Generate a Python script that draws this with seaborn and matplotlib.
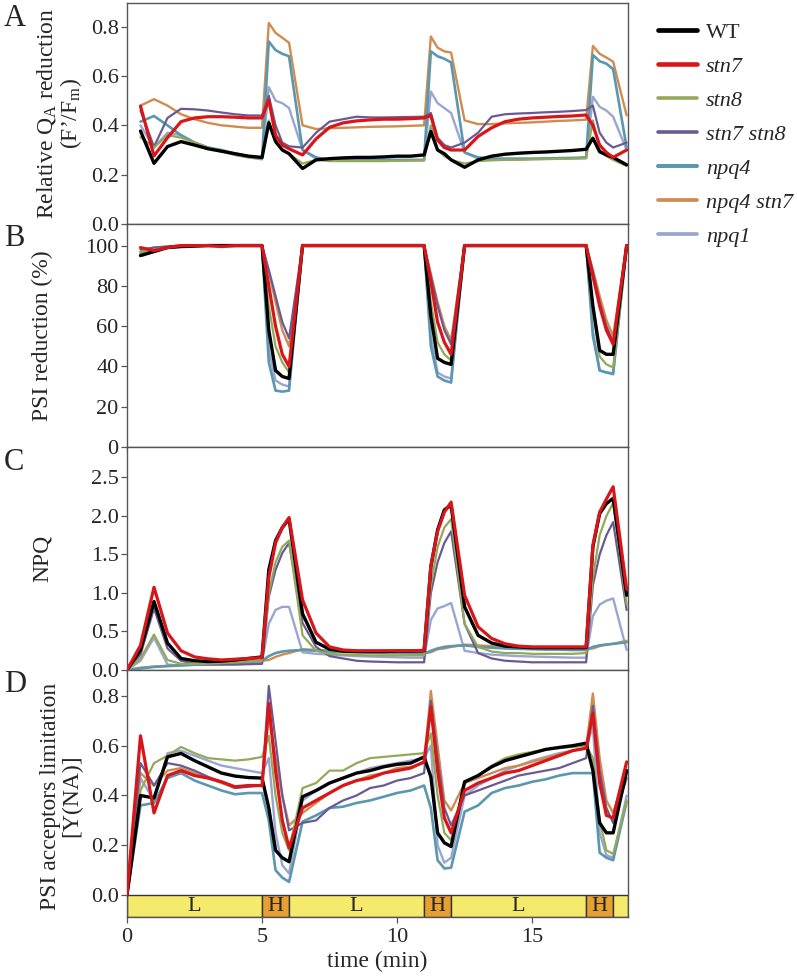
import numpy as np
import pandas as pd
import matplotlib
matplotlib.use("Agg")
import matplotlib.pyplot as plt
import seaborn as sns

nan = np.nan

# ---------------- data ----------------
time = [0, 0.5, 1, 1.5, 2, 2.5, 3, 3.5, 4, 4.5, 5,
        5.25, 5.5, 5.75, 6,
        6.5, 7, 7.5, 8, 8.5, 9, 9.5, 10, 10.5, 11,
        11.25, 11.5, 11.75, 12,
        12.5, 13, 13.5, 14, 14.5, 15, 15.5, 16, 16.5, 17,
        17.25, 17.5, 17.75, 18,
        18.5]

genotypes = ["WT", "stn7", "stn8", "stn7 stn8", "npq4", "npq4 stn7", "npq1"]

# Panel A: relative QA reduction (F'/Fm)
qa_WT = [nan, .377, .246, .314, .334, .32, .305, .295, .285, .275, .27,
         .41, .335, .30, .285,
         .225, .26, .265, .268, .27, .27, .272, .275, .275, .28,
         .375, .30, .285, .26,
         .23, .26, .275, .283, .287, .29, .292, .295, .298, .303,
         .348, .293, .28, .27,
         .24]
qa_stn7 = [nan, .478, .276, .35, .415, .43, .435, .435, .433, .43, .43,
           .503, .36, .32, .305,
           .28, .345, .392, .41, .418, .422, .425, .425, .427, .43,
           .44, .34, .31, .30,
           .30, .355, .39, .415, .425, .43, .433, .436, .438, .442,
           .40, .32, .29, .27,
           .30]
qa_stn8 = [nan, .352, .31, .36, .35, .33, .31, .295, .28, .27, .265,
           .42, .33, .30, .285,
           .245, .26, .255, .255, .255, .255, .255, .256, .257, .258,
           .40, .30, .275, .26,
           .245, .255, .258, .26, .26, .262, .263, .264, .265, .266,
           .42, .30, .275, .26,
           .235]
qa_stn7stn8 = [nan, .46, .313, .43, .467, .465, .46, .452, .445, .44, .44,
               .52, .40, .33, .315,
               .31, .37, .415, .425, .435, .432, .432, .433, .434, .435,
               .45, .35, .32, .31,
               .33, .37, .435, .445, .448, .45, .453, .455, .458, .462,
               .48, .37, .33, .31,
               .33]
qa_npq4 = [nan, .415, .438, .40, .36, .33, .31, .30, .285, .275, .265,
           .74, .705, .69, .68,
           .30, .27, .26, .26, .26, .26, .26, .26, .26, .26,
           .70, .68, .67, .655,
           .29, .27, .265, .265, .265, .265, .266, .267, .268, .27,
           .685, .66, .65, .628,
           .31]
qa_npq4stn7 = [nan, .48, .506, .48, .445, .425, .41, .40, .395, .39, .39,
               .815, .775, .755, .735,
               .40, .385, .388, .39, .392, .394, .395, .396, .398, .40,
               .76, .715, .70, .695,
               .42, .405, .405, .408, .41, .412, .415, .418, .42, .423,
               .722, .69, .675, .658,
               .44]
qa_npq1 = [nan, .40, .31, .37, .36, .33, .31, .295, .28, .27, .262,
           .555, .50, .49, .47,
           .30, .265, .26, .258, .258, .258, .258, .258, .258, .258,
           .537, .49, .47, .45,
           .29, .265, .262, .262, .262, .263, .264, .265, .266, .268,
           .516, .475, .46, .435,
           .30]

# Panel B: PSI reduction (%)
psi_WT = [nan, 95, 97, 99, 99.5, 99.7, 100, 100, 100, 100, 100,
          58, 38, 35, 34,
          100, 100, 100, 100, 100, 100, 100, 100, 100, 100,
          65, 44, 42, 41,
          100, 100, 100, 100, 100, 100, 100, 100, 100, 100,
          70, 48, 46, 46,
          100]
psi_stn7 = [nan, 99, 97.5, 99, 100, 100, 100, 99.5, 100, 100, 100,
            80, 60, 46, 40,
            100, 100, 100, 100, 100, 100, 100, 100, 100, 100,
            82, 62, 52, 46,
            100, 100, 100, 100, 100, 100, 100, 100, 100, 100,
            85, 70, 58, 51,
            100]
psi_stn8 = [nan, 97, 98, 99, 99.5, 100, 100, 100, 100, 100, 100,
            70, 50, 42, 37,
            100, 100, 100, 100, 100, 100, 100, 100, 100, 100,
            72, 52, 46, 43,
            100, 100, 100, 100, 100, 100, 100, 100, 100, 100,
            68, 45, 41, 39.5,
            100]
psi_stn7stn8 = [nan, 98, 99, 99.5, 100, 100, 100, 100, 100, 100, 100,
                88, 75, 62, 54,
                100, 100, 100, 100, 100, 100, 100, 100, 100, 100,
                85, 70, 58, 51,
                100, 100, 100, 100, 100, 100, 100, 100, 100, 100,
                87, 72, 60, 52,
                100]
psi_npq4 = [nan, 96, 98, 99, 99.5, 100, 100, 100, 100, 100, 100,
            42, 28, 27.5, 28,
            100, 100, 100, 100, 100, 100, 100, 100, 100, 100,
            50, 35, 33, 32,
            100, 100, 100, 100, 100, 100, 100, 100, 100, 100,
            55, 38, 37, 36.5,
            100]
psi_npq4stn7 = [nan, 97, 99, 99.5, 100, 100, 100, 100, 100, 100, 100,
                87, 72, 58, 50,
                100, 100, 100, 100, 100, 100, 100, 100, 100, 100,
                86, 72, 60, 53,
                100, 100, 100, 100, 100, 100, 100, 100, 100, 100,
                88, 75, 63, 55,
                100]
psi_npq1 = [nan, 95, 98, 99, 99.5, 100, 100, 100, 100, 100, 100,
            48, 33, 31, 30,
            100, 100, 100, 100, 100, 100, 100, 100, 100, 100,
            55, 37, 35, 34,
            100, 100, 100, 100, 100, 100, 100, 100, 100, 100,
            58, 38, 37, 36,
            100]

# Panel C: NPQ
npq_WT = [0, .26, .89, .35, .15, .12, .11, .115, .13, .15, .17,
          1.3, 1.68, 1.85, 1.96,
          .73, .36, .27, .245, .24, .24, .24, .245, .245, .25,
          1.34, 1.82, 2.08, 2.14,
          .82, .45, .35, .31, .30, .29, .29, .29, .29, .29,
          1.6, 2.03, 2.16, 2.23,
          .97]
npq_stn7 = [0, .32, 1.074, .48, .25, .17, .145, .13, .14, .15, .16,
            1.2, 1.65, 1.85, 1.98,
            .91, .48, .30, .26, .25, .25, .25, .25, .25, .255,
            1.35, 1.8, 2.05, 2.18,
            .97, .56, .41, .34, .31, .30, .30, .30, .30, .30,
            1.62, 2.05, 2.22, 2.38,
            1.05]
npq_stn8 = [0, .15, .46, .13, .08, .08, .08, .09, .10, .11, .12,
            1.0, 1.4, 1.6, 1.68,
            .45, .25, .21, .20, .195, .19, .19, .19, .19, .19,
            1.1, 1.6, 1.85, 1.96,
            .60, .30, .24, .22, .22, .21, .21, .21, .21, .22,
            1.2, 1.75, 2.0, 2.17,
            .85]
npq_stn7stn8 = [0, .2, .80, .28, .12, .08, .07, .07, .07, .075, .08,
                .95, 1.3, 1.52, 1.65,
                .61, .30, .18, .15, .12, .11, .105, .10, .10, .10,
                1.0, 1.4, 1.65, 1.8,
                .60, .22, .15, .12, .11, .10, .10, .10, .10, .10,
                1.1, 1.5, 1.75, 1.92,
                .78]
npq_npq4 = [0, .02, .04, .05, .06, .07, .08, .09, .10, .11, .12,
            .18, .22, .24, .25,
            .26, .25, .24, .235, .23, .225, .22, .22, .215, .21,
            .25, .28, .30, .31,
            .32, .30, .29, .28, .275, .27, .265, .265, .26, .26,
            .30, .32, .33, .34,
            .36]
npq_npq4stn7 = [0, .03, .045, .055, .065, .075, .085, .095, .10, .11, .12,
                .13, .17, .20, .22,
                .27, .26, .255, .25, .245, .24, .235, .23, .225, .22,
                .23, .27, .28, .30,
                .33, .32, .31, .30, .295, .29, .285, .28, .28, .275,
                .28, .31, .33, .34,
                .38]
npq_npq1 = [0, .12, .42, .07, .06, .065, .07, .075, .08, .09, .10,
            .60, .78, .82, .82,
            .23, .21, .20, .19, .18, .175, .17, .165, .16, .16,
            .65, .80, .83, .87,
            .25, .22, .20, .19, .18, .175, .17, .165, .16, .16,
            .70, .85, .90, .93,
            .26]

# Panel D: PSI acceptor-side limitation Y(NA)
yna_WT = [0, .40, .39, .555, .569, .54, .515, .49, .478, .472, .47,
          .35, .18, .15, .134,
          .395, .42, .45, .47, .49, .50, .515, .525, .53, .555,
          .475, .25, .21, .195,
          .455, .48, .515, .54, .555, .57, .585, .593, .60, .61,
          .50, .29, .25, .25,
          .50]
yna_stn7 = [0, .64, .33, .48, .50, .48, .47, .455, .435, .44, .44,
            .77, .50, .30, .19,
            .35, .38, .41, .44, .46, .47, .49, .50, .51, .535,
            .756, .50, .31, .25,
            .42, .45, .47, .49, .50, .52, .54, .56, .58, .59,
            .73, .45, .32, .31,
            .535]
yna_stn8 = [0, .42, .53, .56, .595, .57, .55, .545, .54, .545, .555,
            .64, .40, .25, .18,
            .43, .45, .50, .50, .53, .55, .555, .56, .565, .57,
            .65, .40, .25, .22,
            .45, .48, .52, .55, .565, .575, .585, .59, .595, .60,
            .55, .30, .18, .165,
            .38]
yna_stn7stn8 = [0, .53, .44, .53, .52, .50, .475, .455, .43, .435, .44,
                .84, .62, .40, .26,
                .29, .30, .35, .38, .40, .43, .44, .46, .47, .49,
                .78, .55, .35, .28,
                .40, .42, .44, .46, .48, .49, .50, .51, .53, .55,
                .76, .50, .35, .29,
                .47]
yna_npq4 = [0, .36, .37, .47, .49, .46, .44, .42, .405, .41, .41,
            .30, .10, .07, .053,
            .295, .32, .35, .355, .37, .38, .395, .41, .42, .44,
            .35, .14, .107, .11,
            .335, .36, .41, .43, .44, .455, .465, .48, .49, .49,
            .49, .17, .15, .14,
            .375]
yna_npq4stn7 = [0, .49, .44, .50, .51, .49, .47, .45, .43, .44, .44,
                .72, .55, .40, .28,
                .33, .37, .41, .44, .46, .48, .49, .51, .515, .53,
                .82, .60, .38, .34,
                .45, .47, .49, .51, .52, .535, .55, .565, .58, .59,
                .81, .55, .38, .33,
                .50]
yna_npq1 = [0, .47, .38, .57, .58, .56, .54, .52, .51, .50, .49,
            .55, .25, .12, .087,
            .38, .42, .45, .47, .49, .51, .52, .53, .54, .55,
            .60, .20, .13, .15,
            .40, .44, .47, .50, .52, .54, .555, .57, .58, .59,
            .68, .25, .16, .15,
            .40]

phase_labels = ["L", "H", "L", "H", "L", "H", "L"]
phase_start = [0, 5, 6, 11, 12, 17, 18]
phase_end = [5, 6, 11, 12, 17, 18, 18.55]

panel_letters = ["A", "B", "C", "D"]
xticks = [0, 5, 10, 15]

# ---------------- style ----------------
sns.set_theme(style="white")
plt.rcParams["font.family"] = ["Liberation Serif", "DejaVu Serif"]
plt.rcParams["mathtext.fontset"] = "custom"
plt.rcParams["mathtext.rm"] = "Liberation Serif"
plt.rcParams["mathtext.it"] = "Liberation Serif:italic"

colors = {"WT": "#000000", "stn7": "#d8161a", "stn8": "#93a958",
          "stn7 stn8": "#6a5a94", "npq4": "#5b97ae", "npq4 stn7": "#d08c50",
          "npq1": "#9aa6d2"}
widths = {"WT": 2.4, "stn7": 2.3, "stn8": 1.6, "stn7 stn8": 1.6,
          "npq4": 1.9, "npq4 stn7": 1.7, "npq1": 1.7}
zorders = {"WT": 9, "stn7": 10, "stn8": 6, "stn7 stn8": 5,
           "npq4": 4, "npq4 stn7": 3, "npq1": 2}

panels = [
    dict(zip(genotypes, [qa_WT, qa_stn7, qa_stn8, qa_stn7stn8, qa_npq4, qa_npq4stn7, qa_npq1])),
    dict(zip(genotypes, [psi_WT, psi_stn7, psi_stn8, psi_stn7stn8, psi_npq4, psi_npq4stn7, psi_npq1])),
    dict(zip(genotypes, [npq_WT, npq_stn7, npq_stn8, npq_stn7stn8, npq_npq4, npq_npq4stn7, npq_npq1])),
    dict(zip(genotypes, [yna_WT, yna_stn7, yna_stn8, yna_stn7stn8, yna_npq4, yna_npq4stn7, yna_npq1])),
]

W, H = 797, 976
fig = plt.figure(figsize=(W / 100, H / 100), dpi=100)
left = 127 / W
width = (628 - 127) / W
bounds_px = [(3, 224), (224, 447), (447, 670), (670, 917)]
axes = []
for (t, b) in bounds_px:
    ax = fig.add_axes([left, 1 - b / H, width, (b - t) / H])
    axes.append(ax)

ylims = [(0, 0.896), (0, 110.7), (0, 2.896), (-0.088, 0.904)]
yticks = [[0, 0.2, 0.4, 0.6, 0.8], [0, 20, 40, 60, 80, 100],
          [0, 0.5, 1.0, 1.5, 2.0, 2.5], [0, 0.2, 0.4, 0.6, 0.8]]
yfmt = ["{:.1f}", "{:.0f}", "{:.1f}", "{:.1f}"]
ylabels = ["Relative Q$_{\\mathrm{A}}$ reduction\n(F\u2019/F$_{\\mathrm{m}}$)",
           "PSI reduction (%)", "NPQ",
           "PSI acceptors limitation\n[Y(NA)]"]
label_x = [-0.085, -0.148, -0.148, -0.09]
label_y = [0.5, 0.5, 0.5, 0.49]

for i, ax in enumerate(axes):
    data = panels[i]
    for g in genotypes:
        df = pd.DataFrame({"time": time, "value": data[g]}).dropna()
        sns.lineplot(data=df, x="time", y="value", ax=ax, color=colors[g],
                     lw=widths[g], zorder=zorders[g], estimator=None,
                     sort=False, label=g if i == 0 else None, legend=False)
    ax.set_xlim(0, 18.55)
    ax.set_ylim(*ylims[i])
    ax.set_yticks(yticks[i])
    ax.set_yticklabels([yfmt[i].format(v) for v in yticks[i]])
    ax.set_xticks(xticks)
    if i < 3:
        ax.set_xticklabels([])
        ax.set_xlabel("")
    else:
        ax.set_xticklabels([str(v) for v in xticks])
        ax.set_xlabel("time (min)", fontsize=17, labelpad=3)
    ax.set_ylabel(ylabels[i], fontsize=17, linespacing=1.0)
    ax.yaxis.set_label_coords(label_x[i], label_y[i])
    ax.tick_params(axis="both", direction="out", length=4, width=0.9,
                   color="#555555", labelsize=16, pad=2,
                   bottom=True, left=True)
    ax.tick_params(axis="x", pad=4)
    for s in ax.spines.values():
        s.set_color("#555555")
        s.set_linewidth(1.0)
    fig.text(4 / W, 1 - (bounds_px[i][0] + 15) / H, panel_letters[i],
             fontsize=22, va="center", ha="left")

# light-regime bar under panel D
axd = axes[3]
for lab, s, e in zip(phase_labels, phase_start, phase_end):
    fc = "#f6ea6c" if lab == "L" else "#e6a032"
    axd.bar(x=s, height=0.088, width=e - s, bottom=-0.088, align="edge",
            color=fc, edgecolor="#333333", linewidth=1.0, zorder=1)
    if e - s > 0.8:
        axd.text((s + e) / 2, -0.044, lab, ha="center", va="center",
                 fontsize=16, zorder=2)

# legend
handles, labels = axes[0].get_legend_handles_labels()
leg = fig.legend(handles, labels, loc="upper left",
                 bbox_to_anchor=(658 / W, 1 - 22 / H), frameon=False,
                 fontsize=16, handlelength=1.75, handletextpad=0.4,
                 labelspacing=0.61, borderpad=0, borderaxespad=0)
for txt in leg.get_texts():
    if txt.get_text() != "WT":
        txt.set_fontstyle("italic")
for line in leg.get_lines():
    line.set_linewidth(line.get_linewidth() + 1.0)

fig.savefig("out.png", dpi=100)
